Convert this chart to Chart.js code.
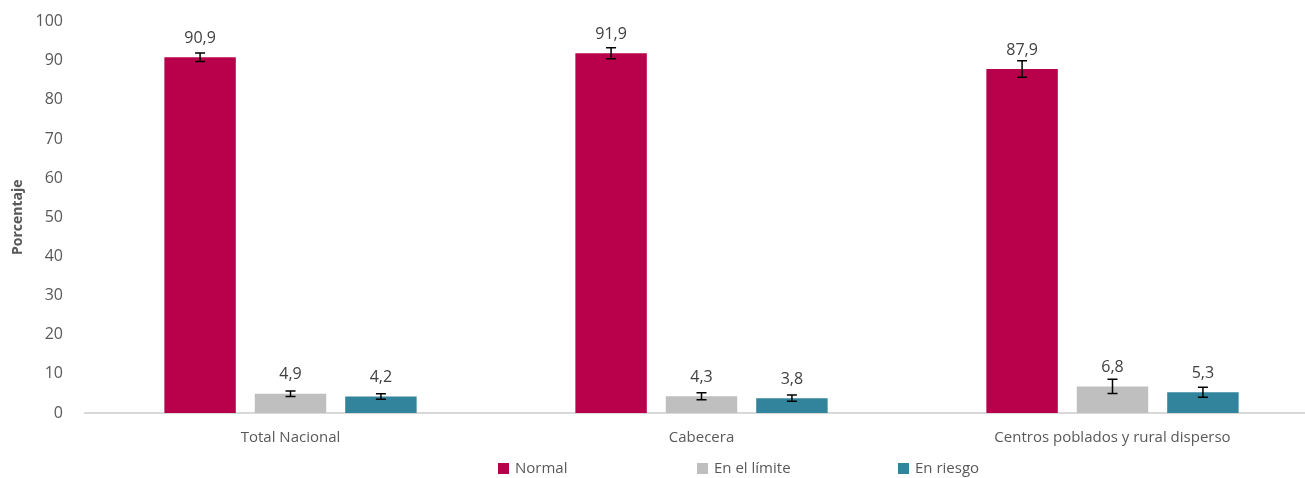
<!DOCTYPE html>
<html>
<head>
<meta charset="utf-8">
<script src="https://cdn.jsdelivr.net/npm/chart.js@4"></script>
<style>
  html, body { margin: 0; background: #fff; font-family: 'Open Sans', sans-serif; overflow: hidden; }
  #wrap { position: relative; width: 1305px; height: 478px; overflow: hidden; }
  #chart { position: absolute; left: 0; top: -10px; }
  #legend { position: absolute; left: 0; top: 456px; width: 1305px; height: 22px; }
  .item { position: absolute; top: 0; font-size: 15px; color: #595959; line-height: 22px; }
  .box { display: inline-block; width: 11px; height: 11px; margin-right: 6px; vertical-align: -1px; }
</style>
</head>
<body>
<div id="wrap">
  <canvas id="chart" width="1318" height="473"></canvas>
  <div id="legend"></div>
</div>
<script>
const categories = ['Total Nacional', 'Cabecera', 'Centros poblados y rural disperso'];
const seriesNames = ['Normal', 'En el límite', 'En riesgo'];
const normal = [90.9, 91.9, 87.9];
const limite = [4.9, 4.3, 6.8];
const riesgo = [4.2, 3.8, 5.3];
const normalErr = [1.1, 1.4, 2.1];
const limiteErr = [0.7, 0.9, 1.8];
const riesgoErr = [0.7, 0.8, 1.3];
const yTicks = [0, 10, 20, 30, 40, 50, 60, 70, 80, 90, 100];
const colors = ['#B8004B', '#BFBFBF', '#31849B'];
const legendX = [498, 697, 898];

const errors = [normalErr, limiteErr, riesgoErr];

// error bars + value labels
const errorBarPlugin = {
  id: 'errorBars',
  afterDatasetsDraw(chart) {
    const ctx = chart.ctx;
    const y = chart.scales.y;
    chart.data.datasets.forEach((ds, i) => {
      const meta = chart.getDatasetMeta(i);
      meta.data.forEach((bar, j) => {
        const v = ds.data[j];
        const e = errors[i][j];
        const top = y.getPixelForValue(v + e);
        const bot = y.getPixelForValue(v - e);
        ctx.save();
        ctx.strokeStyle = '#000';
        ctx.lineWidth = 1.5;
        ctx.beginPath();
        ctx.moveTo(bar.x, top); ctx.lineTo(bar.x, bot);
        ctx.moveTo(bar.x - 5, top); ctx.lineTo(bar.x + 5, top);
        ctx.moveTo(bar.x - 5, bot); ctx.lineTo(bar.x + 5, bot);
        ctx.stroke();
        ctx.fillStyle = '#404040';
        ctx.font = '16px "Open Sans"';
        ctx.textAlign = 'center';
        ctx.textBaseline = 'bottom';
        ctx.fillText(v.toFixed(1).replace('.', ','), bar.x, bar.y - 11);
        ctx.restore();
      });
    });
  }
};

new Chart(document.getElementById('chart'), {
  type: 'bar',
  data: {
    labels: categories,
    datasets: [
      { label: seriesNames[0], data: normal, backgroundColor: colors[0] },
      { label: seriesNames[1], data: limite, backgroundColor: colors[1] },
      { label: seriesNames[2], data: riesgo, backgroundColor: colors[2] }
    ]
  },
  options: {
    responsive: false,
    animation: false,
    layout: { padding: { top: 0, right: 0, left: 8, bottom: 0 } },
    datasets: { bar: { categoryPercentage: 0.66, barPercentage: 0.79 } },
    plugins: { legend: { display: false }, tooltip: { enabled: false } },
    scales: {
      x: {
        grid: { display: false, drawTicks: false },
        border: { color: '#D9D9D9', width: 2 },
        ticks: { color: '#595959', font: { family: 'Open Sans', size: 15 }, padding: 16 }
      },
      y: {
        min: 0, max: 100,
        afterBuildTicks: axis => { axis.ticks = yTicks.map(v => ({ value: v })); },
        afterFit: axis => { axis.width = 77; },
        grid: { display: false, drawTicks: false },
        border: { display: false },
        ticks: { color: '#595959', font: { family: 'Open Sans', size: 16 }, padding: 22 },
        title: {
          display: true, text: 'Porcentaje', color: '#595959',
          font: { family: 'Open Sans', size: 14, weight: 'bold' }, padding: 2
        }
      }
    }
  },
  plugins: [errorBarPlugin]
});

const legend = document.getElementById('legend');
seriesNames.forEach((name, i) => {
  const d = document.createElement('div');
  d.className = 'item';
  d.style.left = legendX[i] + 'px';
  d.innerHTML = '<span class="box" style="background:' + colors[i] + '"></span>' + name;
  legend.appendChild(d);
});
</script>
</body>
</html>
